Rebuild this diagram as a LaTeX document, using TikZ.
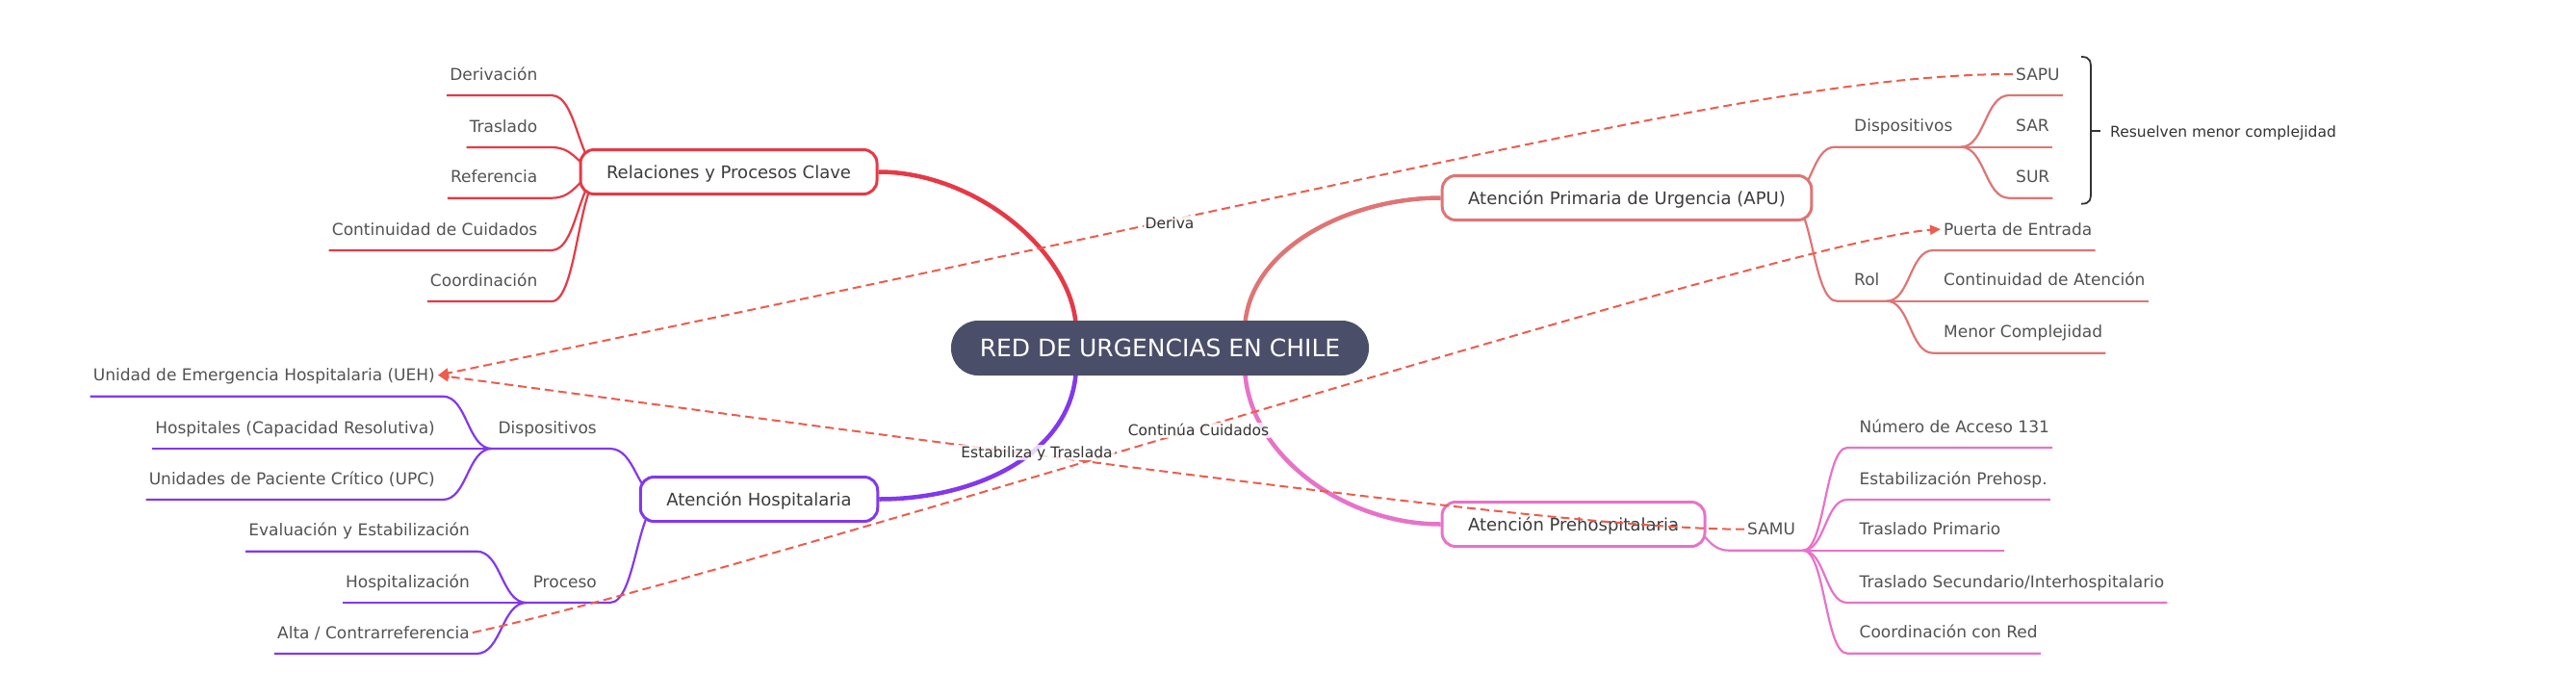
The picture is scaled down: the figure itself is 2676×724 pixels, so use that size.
\documentclass[tikz,border=0pt]{standalone}
\usepackage{fontspec}
\setmainfont{DejaVu Sans}
\usetikzlibrary{calc,arrows.meta,backgrounds}
\definecolor{cred}{HTML}{E63946}
\definecolor{capu}{HTML}{E07474}
\definecolor{cpur}{HTML}{8338EC}
\definecolor{cpink}{HTML}{E872C8}
\definecolor{cdash}{HTML}{EF5B4C}
\definecolor{croot}{HTML}{4A4E69}
\definecolor{leafc}{HTML}{525252}
\definecolor{lonec}{HTML}{3C3C3C}
\definecolor{labc}{HTML}{333333}
\begin{document}
\begin{tikzpicture}[x=1pt,y=-1pt,
  leaf/.style={font=\fontsize{17}{20}\selectfont, text=leafc, inner xsep=3pt, inner ysep=0pt, text height=12.4pt, text depth=0pt},
  lone/.style={draw, line width=3pt, fill=white, rounded corners=14pt, minimum height=46pt, inner xsep=27pt, inner ysep=0pt, text height=13.1pt, text depth=0pt, font=\fontsize{18}{22}\selectfont, text=lonec},
  rootbox/.style={fill=croot, text=white, rounded corners=28pt, minimum width=434pt, minimum height=57pt, inner sep=0pt, text height=18.2pt, text depth=0pt, font=\fontsize{25}{30}\selectfont},
  mainlink/.style={line width=4.5pt},
  sublink/.style={line width=2.2pt},
  hb/.style={to path={let \p1=(\tikztostart), \p2=(\tikztotarget) in .. controls ({0.5*\x1+0.5*\x2},\y1) and ({0.5*\x1+0.5*\x2},\y2) .. (\tikztotarget)}},
  dlink/.style={draw=cdash, line width=2pt, dash pattern=on 9pt off 5pt},
  dlinkarrow/.style={dlink, -{Triangle[length=11pt,width=10pt,fill=cdash]}},
  elabel/.style={font=\fontsize{15.5}{18}\selectfont, text=labc, fill=white, fill opacity=0.8, text opacity=1, inner sep=2pt, text height=11.3pt, text depth=0pt},
  note/.style={font=\fontsize{15.5}{18}\selectfont, text=labc, inner sep=3pt, text height=11.3pt, text depth=0pt}
]
\useasboundingbox (0,0) rectangle (2676,724);

% ---------- junction coordinates ----------
\coordinate (relin) at (628,178.5);
\coordinate (derR) at (573,99);
\coordinate (trasR) at (573,153);
\coordinate (refR) at (573,205.7);
\coordinate (contR) at (573,260);
\coordinate (coordR) at (573,313);
\coordinate (hospin) at (689,518.5);
\coordinate (hdispR) at (633.6,466);
\coordinate (hdispJ) at (511,466);
\coordinate (uehR) at (460,411.7);
\coordinate (hcapR) at (460,466);
\coordinate (upcR) at (460,519);
\coordinate (hprocR) at (633.6,626);
\coordinate (hprocJ) at (547,626);
\coordinate (evalR) at (495,572.7);
\coordinate (hospzR) at (495,626);
\coordinate (altaR) at (495,679);
\coordinate (apuin) at (1858,205.5);
\coordinate (adispL) at (1906,152.7);
\coordinate (adispJ) at (2037,152.7);
\coordinate (sapuL) at (2087,99);
\coordinate (sarL) at (2087,152.7);
\coordinate (surL) at (2087,205.7);
\coordinate (rolL) at (1908,312.7);
\coordinate (rolJ) at (1960,312.7);
\coordinate (puertaL) at (2008,260);
\coordinate (contatL) at (2008,312.7);
\coordinate (menorL) at (2008,366.7);
\coordinate (prein) at (1747,544.5);
\coordinate (samuL) at (1796,571.7);
\coordinate (samuJ) at (1873,571.7);
\coordinate (numL) at (1919,465);
\coordinate (estpL) at (1919,519);
\coordinate (tprimL) at (1919,571.7);
\coordinate (tsecL) at (1919,626);
\coordinate (coordrL) at (1919,678.7);
\coordinate (rootNW) at (1118,345);
\coordinate (rootNE) at (1293,345);
\coordinate (rootSW) at (1118,378);
\coordinate (rootSE) at (1293,378);

% ---------- main nodes ----------
\node[rootbox] (root) at (1205,361.5) {RED DE URGENCIAS EN CHILE};
\node[lone, draw=cred] (rel) at (757,178.5) {Relaciones y Procesos Clave};
\node[lone, draw=capu] (apu) at (1690,205.5) {Atención Primaria de Urgencia (APU)};
\node[lone, draw=cpur] (hosp) at (788.5,518.5) {Atención Hospitalaria};
\node[lone, draw=cpink] (pre) at (1634.5,544.5) {Atención Prehospitalaria};

% ---------- leaf texts ----------
\node[leaf, anchor=base east] (der) at (561.5,83.2) {Derivación};
\node[leaf, anchor=base east] (tras) at (561.5,137.2) {Traslado};
\node[leaf, anchor=base east] (refe) at (561.5,189.9) {Referencia};
\node[leaf, anchor=base east] (cont) at (561.5,244.2) {Continuidad de Cuidados};
\node[leaf, anchor=base east] (coord) at (561.5,297.2) {Coordinación};

\node[leaf, anchor=base east] (hdisp) at (623,450.2) {Dispositivos};
\node[leaf, anchor=base east] (ueh) at (455,395.9) {Unidad de Emergencia Hospitalaria (UEH)};
\node[leaf, anchor=base east] (hcap) at (455,450.2) {Hospitales (Capacidad Resolutiva)};
\node[leaf, anchor=base east] (upc) at (455,503.2) {Unidades de Paciente Crítico (UPC)};
\node[leaf, anchor=base east] (hproc) at (623,610.2) {Proceso};
\node[leaf, anchor=base east] (eval) at (491,556.9) {Evaluación y Estabilización};
\node[leaf, anchor=base east] (hospz) at (491,610.2) {Hospitalización};
\node[leaf, anchor=base east] (alta) at (491,663.2) {Alta / Contrarreferencia};

\node[leaf, anchor=base west] (adisp) at (1923,136.9) {Dispositivos};
\node[leaf, anchor=base west] (sapu) at (2091,83.2) {SAPU};
\node[leaf, anchor=base west] (sar) at (2091,136.9) {SAR};
\node[leaf, anchor=base west] (sur) at (2091,189.9) {SUR};
\node[leaf, anchor=base west] (rol) at (1923,296.9) {Rol};
\node[leaf, anchor=base west] (puerta) at (2016,244.2) {Puerta de Entrada};
\node[leaf, anchor=base west] (contat) at (2016,296.9) {Continuidad de Atención};
\node[leaf, anchor=base west] (menor) at (2016,350.9) {Menor Complejidad};

\node[leaf, anchor=base west] (samu) at (1812,555.9) {SAMU};
\node[leaf, anchor=base west] (num) at (1928.5,449.2) {Número de Acceso 131};
\node[leaf, anchor=base west] (estp) at (1928.5,503.2) {Estabilización Prehosp.};
\node[leaf, anchor=base west] (tprim) at (1928.5,555.9) {Traslado Primario};
\node[leaf, anchor=base west] (tsec) at (1928.5,610.2) {Traslado Secundario/Interhospitalario};
\node[leaf, anchor=base west] (coordr) at (1928.5,662.9) {Coordinación con Red};

% ---------- links (behind) ----------
\begin{pgfonlayer}{background}
\draw[mainlink, draw=cred] (rel.east) .. controls +(103,0) and +(0,-80) .. (rootNW);
\draw[mainlink, draw=capu] (rootNE) .. controls +(0,-85) and +(-97,0) .. (apu.west);
\draw[mainlink, draw=cpur] (hosp.east) .. controls +(102,0) and +(0,92) .. (rootSW);
\draw[mainlink, draw=cpink] (rootSE) .. controls +(0,92) and +(-102,0) .. (pre.west);

\begin{scope}[sublink, draw=cred]
\draw (relin) to[hb] (derR) -- (der.west |- derR);
\draw (relin) to[hb] (trasR) -- (tras.west |- trasR);
\draw (relin) to[hb] (refR) -- (refe.west |- refR);
\draw (relin) to[hb] (contR) -- (cont.west |- contR);
\draw (relin) to[hb] (coordR) -- (coord.west |- coordR);
\end{scope}

\begin{scope}[sublink, draw=cpur]
\draw (hospin) to[hb] (hdispR) -- (hdispJ);
\draw (hdispJ) to[hb] (uehR) -- (ueh.west |- uehR);
\draw (hdispJ) to[hb] (hcapR) -- (hcap.west |- hcapR);
\draw (hdispJ) to[hb] (upcR) -- (upc.west |- upcR);
\draw (hospin) to[hb] (hprocR) -- (hprocJ);
\draw (hprocJ) to[hb] (evalR) -- (eval.west |- evalR);
\draw (hprocJ) to[hb] (hospzR) -- (hospz.west |- hospzR);
\draw (hprocJ) to[hb] (altaR) -- (alta.west |- altaR);
\end{scope}

\begin{scope}[sublink, draw=capu]
\draw (apuin) to[hb] (adispL) -- (adispJ);
\draw (adispJ) to[hb] (sapuL) -- (sapu.east |- sapuL);
\draw (adispJ) to[hb] (sarL) -- (sar.east |- sarL);
\draw (adispJ) to[hb] (surL) -- (sur.east |- surL);
\draw (apuin) to[hb] (rolL) -- (rolJ);
\draw (rolJ) to[hb] (puertaL) -- (puerta.east |- puertaL);
\draw (rolJ) to[hb] (contatL) -- (contat.east |- contatL);
\draw (rolJ) to[hb] (menorL) -- (menor.east |- menorL);
\end{scope}

\begin{scope}[sublink, draw=cpink]
\draw (prein) to[hb] (samuL) -- (samuJ);
\draw (samuJ) to[hb] (numL) -- (num.east |- numL);
\draw (samuJ) to[hb] (estpL) -- (estp.east |- estpL);
\draw (samuJ) to[hb] (tprimL) -- (tprim.east |- tprimL);
\draw (samuJ) to[hb] (tsecL) -- (tsec.east |- tsecL);
\draw (samuJ) to[hb] (coordrL) -- (coordr.east |- coordrL);
\end{scope}
\end{pgfonlayer}

% ---------- brace ----------
\coordinate (bmid) at (2172,135.7);
\coordinate (btick) at (2182,135.7);
\draw[labc, line width=1.8pt] (2162,59) .. controls (2172,59) and (2172,64) .. (2172,74) -- (2172,197) .. controls (2172,207) and (2172,211.7) .. (2162,211.7);
\draw[labc, line width=1.8pt] (bmid) -- (btick);
\node[note, anchor=west] (resu) at (2189,136.7) {Resuelven menor complejidad};

% ---------- cross links ----------
\draw[dlinkarrow] (sapu.west) .. controls (1850,77) and (1500,174) .. (ueh.east);
\draw[dlinkarrow] (samu.west) .. controls (1650,550) and (1200,490) .. (ueh.east);
\draw[dlinkarrow] (alta.east) .. controls (800,590) and (1850,250) .. (puerta.west);

\node[elabel] (lderiva) at (1215,232) {Deriva};
\node[elabel] (lestab) at (1077,470) {Estabiliza y Traslada};
\node[elabel] (lcont) at (1245,447) {Continúa Cuidados};
\end{tikzpicture}
\end{document}
